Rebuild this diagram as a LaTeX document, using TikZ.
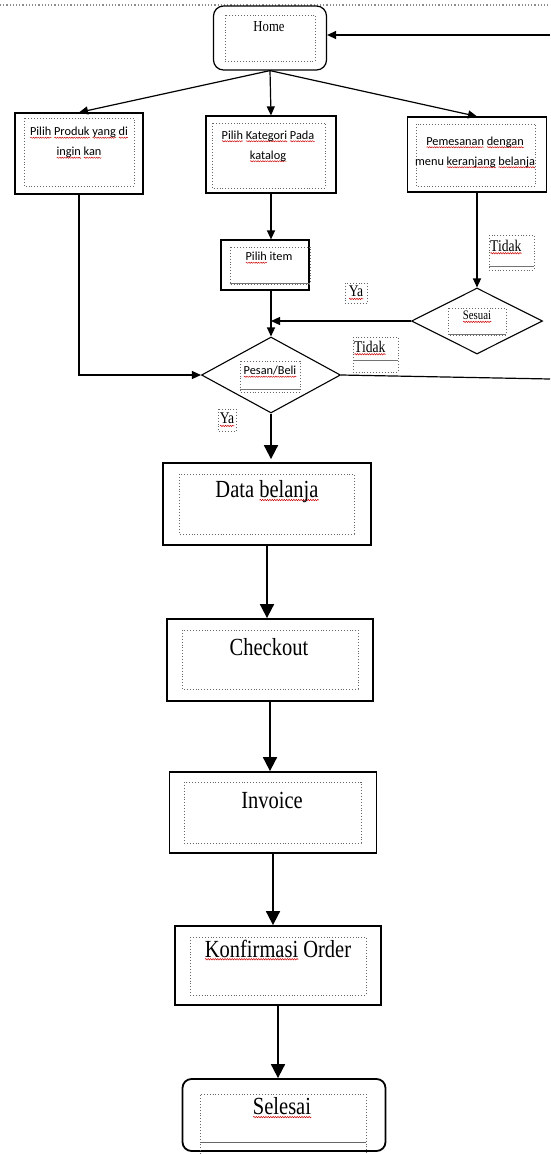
\documentclass[tikz,border=0pt]{standalone}
\usepackage{fontspec}
\setmainfont{Liberation Serif}
\newfontfamily\calfont{Carlito}
\usepackage{graphicx}
\usetikzlibrary{arrows.meta,shapes.geometric,decorations.pathmorphing}
\newcommand\vst[1]{\scalebox{1}[1.2]{#1}}
\newsavebox\rwbox
\newcommand\rw[1]{\sbox\rwbox{#1}\leavevmode\rlap{\raisebox{-2.6pt}{\tikz[x=1pt,y=1pt]\draw[red!80!black,line width=0.45pt,decorate,decoration={snake,amplitude=0.6pt,segment length=2.4pt}] (0,0) -- (\the\wd\rwbox,0);}}\usebox\rwbox}
\begin{document}
\begin{tikzpicture}[x=1pt,y=-1pt,
  pbox/.style={draw, line width=1.2pt, inner sep=0pt},
  lbox/.style={draw, line width=1.8pt, inner sep=0pt},
  dbox/.style={draw=black!60, dotted, line width=0.9pt},
  sanst/.style={font=\calfont\fontsize{12.3pt}{20pt}\selectfont, align=center, inner sep=0pt},
  smallt/.style={font=\fontsize{12.7pt}{15pt}\selectfont, inner sep=0pt},
  lbl/.style={font=\fontsize{13.6pt}{16pt}\selectfont, inner sep=0pt},
  bigt/.style={font=\fontsize{20.5pt}{24pt}\selectfont, inner sep=0pt},
  dia/.style={draw, diamond, line width=1.1pt, inner sep=0pt},
  arr/.style={line width=1.2pt, -{Triangle[length=9pt,width=8pt]}},
  barr/.style={line width=1.8pt, -{Triangle[length=14pt,width=14pt]}},
  ln/.style={line width=1.2pt}]
\useasboundingbox (0,0) rectangle (550,1154);
\fill[white] (0,0) rectangle (550,1154);
% top dotted page line
\draw[black!45, dotted, line width=1.2pt] (0,5) -- (550,5);

% ---- boxes ----
\node[pbox, rounded corners=10pt, minimum width=113pt, minimum height=64pt] (home) at (270,38) {};
\draw[dbox] (225,15) rectangle (315,61);
\node[smallt] (homet) at (269,27) {\vst{Home}};

\node[pbox, minimum width=128pt, minimum height=81pt] (left) at (79,153.5) {};
\draw[dbox] (24,118) rectangle (134,186);
\node[sanst] (leftt) at (79,143) {\rw{Pilih} \rw{Produk} \rw{yang} \rw{di}\\\rw{ingin} \rw{kan}};

\node[pbox, minimum width=130pt, minimum height=77pt] (mid) at (271,154.5) {};
\draw[dbox] (212,123) rectangle (325,188);
\node[sanst] (midt) at (268,146.5) {\rw{Pilih} \rw{Kategori} \rw{Pada}\\\rw{katalog}};

\node[pbox, minimum width=139pt, minimum height=75pt] (right) at (477,154.5) {};
\draw[dbox] (416,124) rectangle (535,186);
\node[sanst] (rightt) at (475,152.5) {\rw{Pemesanan} \rw{dengan}\\menu \rw{keranjang} \rw{belanja}};

\node[pbox, minimum width=88pt, minimum height=50pt] (item) at (265,265) {};
\draw[dbox] (230,247) rectangle (310,284);
\draw[black!55, line width=0.8pt] (230,283) -- (310,283);
\node[sanst] (itemt) at (269,258) {\rw{Pilih} item};

\node[dia, minimum width=139pt, minimum height=76pt] (pb) at (271,375) {};
\draw[dbox] (240,361) rectangle (300,392);
\draw[black!55, line width=0.8pt] (240,389) -- (300,389);
\node[sanst] (pbt) at (270,372) {\rw{Pesan/Beli}};

\node[dia, minimum width=131pt, minimum height=66pt] (ses) at (477,321) {};
\draw[dbox] (448,308) rectangle (506,335);
\draw[black!55, line width=0.8pt] (448,334) -- (506,334);
\node[font=\fontsize{10.8pt}{13pt}\selectfont, inner sep=0pt] (sest) at (477,317) {\vst{\rw{Sesuai}}};

% labels
\draw[dbox] (489,235) rectangle (534,270);
\draw[black!55, line width=0.8pt] (489,266) -- (534,266);
\node[lbl, anchor=west] (tidak1) at (490,247) {\vst{\rw{Tidak}}};
\draw[dbox] (345,283) rectangle (367,303);
\node[lbl] (ya1) at (356,293) {\vst{\rw{Ya}}};
\draw[dbox] (353,337) rectangle (398,372);
\draw[black!55, line width=0.8pt] (353,360) -- (398,360);
\node[lbl, anchor=west] (tidak2) at (354,348) {\vst{\rw{Tidak}}};
\draw[dbox] (218,409) rectangle (236,431);
\node[lbl] (ya2) at (227,420) {\vst{\rw{Ya}}};

% lower boxes
\node[lbox, minimum width=208pt, minimum height=82pt] (data) at (267,504) {};
\draw[dbox] (179,474) rectangle (354,534);
\node[bigt] (datat) at (267,492) {\vst{Data \rw{belanja}}};

\node[lbox, minimum width=206pt, minimum height=82pt] (check) at (270,660) {};
\draw[dbox] (182,630) rectangle (358,689);
\node[bigt] (checkt) at (269,647) {\vst{Checkout}};

\node[lbox, minimum width=207pt, minimum height=81pt] (inv) at (273,812.5) {};
\draw[dbox] (184,782) rectangle (361,843);
\node[bigt] (invt) at (272,800) {\vst{Invoice}};

\node[lbox, minimum width=206pt, minimum height=79pt] (konf) at (278,965.5) {};
\draw[dbox] (190,937) rectangle (366,995);
\node[bigt] (konft) at (278,950) {\vst{\rw{Konfirmasi} Order}};

\node[lbox, rounded corners=9pt, minimum width=203pt, minimum height=72pt] (sel) at (284,1115) {};
\draw[dbox] (200,1154) -- (200,1094) -- (366,1094) -- (366,1154);
\draw[black!60, line width=1pt] (200,1142) -- (366,1142);
\node[bigt] (selt) at (282,1108) {\vst{\rw{Selesai}}};

% ---- connectors ----
\coordinate (hr) at (550,35);
\draw[arr] (hr) -- (hr -| home.east);
\draw[arr] (home.south) -- (left.north);
\draw[arr] (home.south) -- (mid.north);
\draw[arr] (home.south) -- (right.north);
\draw[arr] (left.south) |- (pb.west);
\draw[arr] (mid.south) -- (mid.south |- item.north);
\draw[arr] (pb.north |- item.south) -- (pb.north);
\draw[arr] (ses.west) -- (pb.north |- ses.west);
\draw[arr] (right.south) -- (ses.north);
\coordinate (pbr) at (550,379);
\draw[ln] (pb.east) -- (pbr);
\draw[barr] (pb.south) -- ([yshift=3pt]pb.south |- data.north);
\draw[barr] (data.south) -- (data.south |- check.north);
\draw[barr] (check.south) -- (check.south |- inv.north);
\draw[barr] (inv.south) -- (inv.south |- konf.north);
\draw[barr] (konf.south) -- (konf.south |- sel.north);
\end{tikzpicture}
\end{document}
